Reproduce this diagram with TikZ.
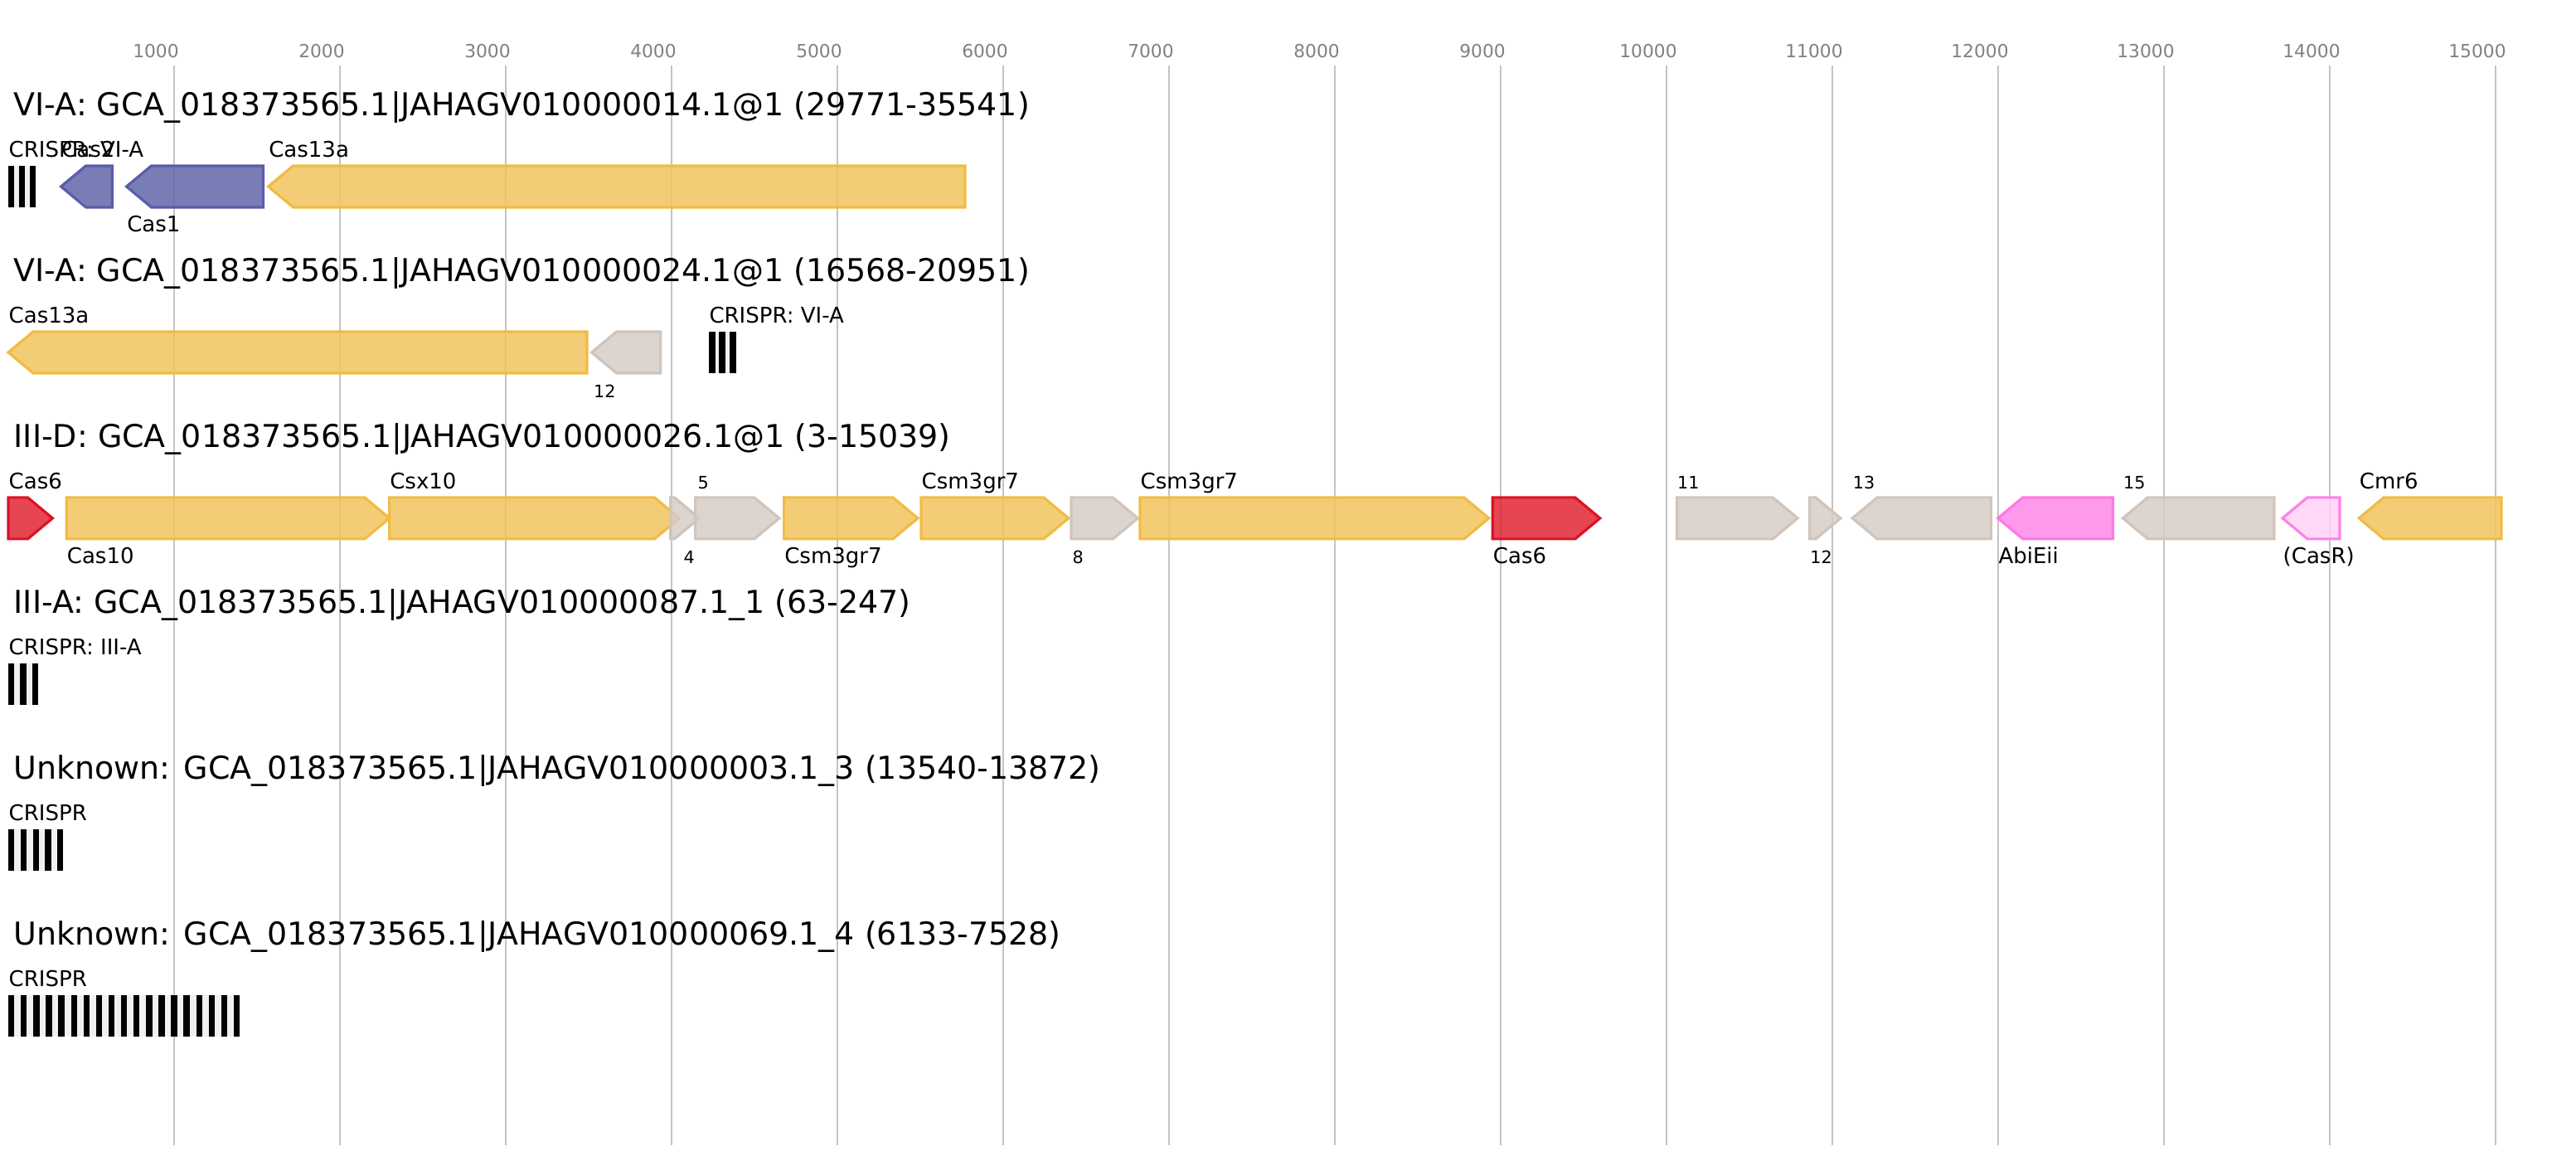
\documentclass[tikz,border=0pt]{standalone}
\usepackage{fontspec}
\setmainfont{DejaVu Sans}
\usepackage{xcolor}
\definecolor{gridc}{HTML}{C4C4C4}
\definecolor{tickc}{HTML}{808080}
\definecolor{yelF}{HTML}{F0C45D}
\definecolor{yelD}{HTML}{F0BC45}
\definecolor{bluF}{HTML}{6266A8}
\definecolor{bluD}{HTML}{5A5DA8}
\definecolor{gryF}{HTML}{D6CCC6}
\definecolor{gryD}{HTML}{D0C4BC}
\definecolor{redF}{HTML}{E22434}
\definecolor{redD}{HTML}{DC1226}
\definecolor{pnkF}{HTML}{FF87E7}
\definecolor{pnkD}{HTML}{FF78E3}
\definecolor{lpkF}{HTML}{FFD2F6}
\definecolor{lpkD}{HTML}{FF80E8}
\definecolor{gapc}{HTML}{F0F0F0}
\tikzset{
  gridl/.style={draw=gridc, line width=0.2mm},
  ticklab/.style={text=tickc, font=\fontsize{6.2}{7}\selectfont, anchor=base, inner sep=0pt},
  title/.style={font=\fontsize{10.8}{12}\selectfont, anchor=base west, inner sep=0pt},
  lab/.style={font=\fontsize{7.4}{9}\selectfont, anchor=base west, inner sep=0pt},
  labs/.style={font=\fontsize{5.9}{7}\selectfont, anchor=base west, inner sep=0pt},
  gene/.style={line width=0.32mm, line join=miter, fill opacity=0.85},
  yellowgene/.style={gene, draw=yelD, fill=yelF},
  bluegene/.style={gene, draw=bluD, fill=bluF},
  graygene/.style={gene, draw=gryD, fill=gryF},
  redgene/.style={gene, draw=redD, fill=redF},
  pinkgene/.style={gene, draw=pnkD, fill=pnkF},
  lightpinkgene/.style={gene, draw=lpkD, fill=lpkF},
  crisprgap/.style={fill=gapc},
  crisprbar/.style={fill=black}
}
% gene arrows: start, end (bp), style, row centre (px)
\newcommand{\generight}[4]{%
  \pgfmathsetmacro{\hd}{min(150,#2-#1)}
  \draw[#3] (#1,#4-25) -- ({#2-\hd},#4-25) -- (#2,#4) -- ({#2-\hd},#4+25) -- (#1,#4+25) -- cycle;
}
\newcommand{\geneleft}[4]{%
  \pgfmathsetmacro{\hd}{min(150,#2-#1)}
  \draw[#3] (#2,#4-25) -- ({#1+\hd},#4-25) -- (#1,#4) -- ({#1+\hd},#4+25) -- (#2,#4+25) -- cycle;
}
% crispr array: start, pitch, repeats, bar width, row centre
\newcommand{\crispr}[5]{%
  \fill[crisprgap] (#1,#5-25) rectangle ({#1+(#3-1)*#2+#4},#5+25);
  \foreach \i in {1,...,#3}
    \fill[crisprbar] ({#1+(\i-1)*#2},#5-25) rectangle ++(#4,50);
}

\begin{document}
\begin{tikzpicture}[x=0.02mm, y=-0.1mm]
  \useasboundingbox (-50,0) rectangle (15485,1400);

  % scale
  \foreach \k in {1000,2000,...,15000} {
    \draw[gridl] (\k,79) -- (\k,1381);
    \node[ticklab] (tick\k) at (\k-110,70) {\k};
  }

  % row 1
  \node[title] (title1) at (30,140) {VI-A: GCA\_018373565.1|JAHAGV010000014.1@1 (29771-35541)};
  \crispr{0}{65}{3}{33}{225}
  \geneleft{318}{627}{bluegene}{225}
  \geneleft{713}{1537}{bluegene}{225}
  \geneleft{1568}{5770}{yellowgene}{225}
  \node[lab] (crispr1) at (0,190) {CRISPR: VI-A};
  \node[lab] (cas2) at (318,190) {Cas2};
  \node[lab] (cas1) at (713,280) {Cas1};
  \node[lab] (cas13a1) at (1568,190) {Cas13a};

  % row 2
  \node[title] (title2) at (30,340) {VI-A: GCA\_018373565.1|JAHAGV010000024.1@1 (16568-20951)};
  \geneleft{0}{3490}{yellowgene}{425}
  \geneleft{3518}{3934}{graygene}{425}
  \crispr{4224}{63}{3}{40}{425}
  \node[lab] (cas13a2) at (0,390) {Cas13a};
  \node[labs] (orf12a) at (3527,480) {12};
  \node[lab] (crispr2) at (4224,390) {CRISPR: VI-A};

  % row 3
  \node[title] (title3) at (30,540) {III-D: GCA\_018373565.1|JAHAGV010000026.1@1 (3-15039)};
  \generight{0}{267}{redgene}{625}
  \generight{351}{2299}{yellowgene}{625}
  \generight{2298}{4047}{yellowgene}{625}
  \generight{3993}{4167}{graygene}{625}
  \generight{4143}{4649}{graygene}{625}
  \generight{4678}{5485}{yellowgene}{625}
  \generight{5505}{6394}{yellowgene}{625}
  \generight{6410}{6812}{graygene}{625}
  \generight{6825}{8929}{yellowgene}{625}
  \generight{8951}{9599}{redgene}{625}
  \generight{10062}{10791}{graygene}{625}
  \generight{10863}{11050}{graygene}{625}
  \geneleft{11121}{11957}{graygene}{625}
  \geneleft{11999}{12692}{pinkgene}{625}
  \geneleft{12752}{13665}{graygene}{625}
  \geneleft{13715}{14060}{lightpinkgene}{625}
  \geneleft{14176}{15035}{yellowgene}{625}
  \node[lab] (cas6a) at (0,590) {Cas6};
  \node[lab] (cas10) at (351,680) {Cas10};
  \node[lab] (csx10) at (2298,590) {Csx10};
  \node[labs] (orf4) at (4070,680) {4};
  \node[labs] (orf5) at (4155,590) {5};
  \node[lab] (csm3a) at (4678,680) {Csm3gr7};
  \node[lab] (csm3b) at (5505,590) {Csm3gr7};
  \node[labs] (orf8) at (6415,680) {8};
  \node[lab] (csm3c) at (6825,590) {Csm3gr7};
  \node[lab] (cas6b) at (8951,680) {Cas6};
  \node[labs] (orf11) at (10062,590) {11};
  \node[labs] (orf12b) at (10863,680) {12};
  \node[labs] (orf13) at (11121,590) {13};
  \node[lab] (abieii) at (11999,680) {AbiEii};
  \node[labs] (orf15) at (12752,590) {15};
  \node[lab] (casr) at (13715,680) {(CasR)};
  \node[lab] (cmr6) at (14176,590) {Cmr6};

  % row 4
  \node[title] (title4) at (30,740) {III-A: GCA\_018373565.1|JAHAGV010000087.1\_1 (63-247)};
  \crispr{0}{72}{3}{36}{825}
  \node[lab] (crispr4) at (0,790) {CRISPR: III-A};

  % row 5
  \node[title] (title5) at (30,940) {Unknown: GCA\_018373565.1|JAHAGV010000003.1\_3 (13540-13872)};
  \crispr{0}{74}{5}{36}{1025}
  \node[lab] (crispr5) at (0,990) {CRISPR};

  % row 6
  \node[title] (title6) at (30,1140) {Unknown: GCA\_018373565.1|JAHAGV010000069.1\_4 (6133-7528)};
  \crispr{0}{75.5}{19}{37}{1225}
  \node[lab] (crispr6) at (0,1190) {CRISPR};
\end{tikzpicture}
\end{document}
